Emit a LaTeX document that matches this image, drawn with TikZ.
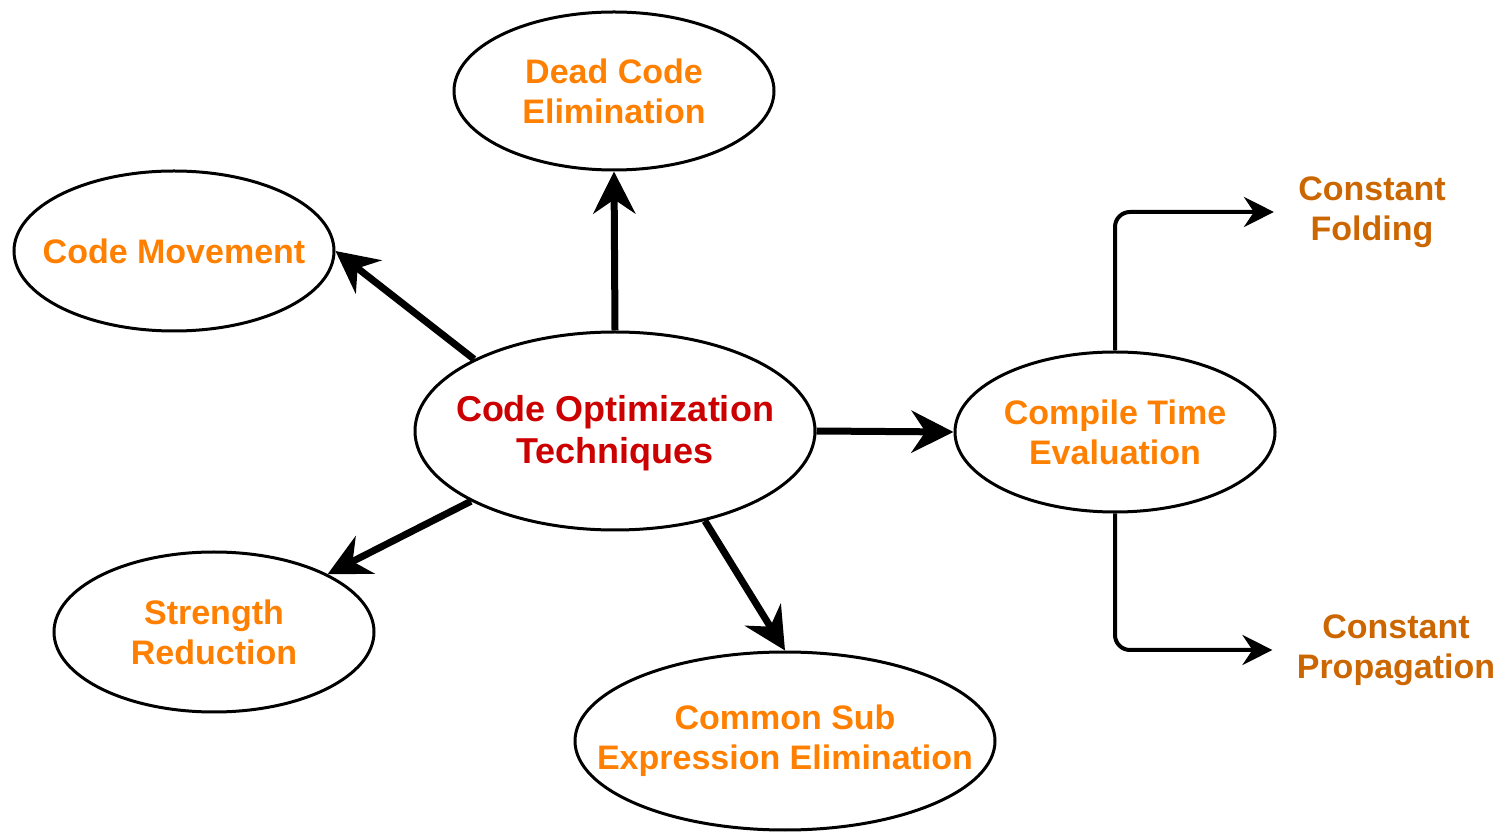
\documentclass[tikz,border=0pt]{standalone}
\usepackage{fontspec}
\setmainfont{Liberation Sans}
\usetikzlibrary{arrows.meta,shapes.geometric}
\definecolor{orangetxt}{HTML}{FF8000}
\definecolor{redtxt}{HTML}{CC0000}
\definecolor{brown}{HTML}{CC6600}
\tikzset{
  ell/.style={draw=black,line width=1.5pt,ellipse,inner sep=0pt,fill=white},
  otxt/.style={align=center,text=orangetxt,font=\fontsize{17pt}{20pt}\selectfont\bfseries},
  rtxt/.style={align=center,text=redtxt,font=\fontsize{18pt}{21pt}\selectfont\bfseries},
  btxt/.style={align=center,text=brown,font=\fontsize{17pt}{20pt}\selectfont\bfseries,inner xsep=12pt,inner ysep=0pt},
  thick arrow/.style={line width=3.5pt,-{Stealth[length=21pt,width=21pt,inset=7pt]}},
  thin arrow/.style={line width=2pt,rounded corners=7.5pt,-{Stealth[length=15pt,width=15pt,inset=5pt]}}
}
\begin{document}
\begin{tikzpicture}[x=0.5pt,y=-0.5pt]
\useasboundingbox (0,0) rectangle (1505,833);
\node[ell,minimum width=200pt,minimum height=99pt,label={[rtxt,yshift=-1pt]center:Code Optimization\\Techniques}] (c) at (615,431) {};
\node[ell,minimum width=160pt,minimum height=79pt,label={[otxt]center:Dead Code\\Elimination}] (dc) at (614,91) {};
\node[ell,minimum width=160pt,minimum height=80pt,label={[otxt]center:Code Movement}] (cm) at (174,251) {};
\node[ell,minimum width=160pt,minimum height=80pt,label={[otxt]center:Strength\\Reduction}] (sr) at (214,632) {};
\node[ell,minimum width=210pt,minimum height=89pt,label={[otxt]center:Common Sub\\Expression Elimination}] (cs) at (785,741) {};
\node[ell,minimum width=160pt,minimum height=80pt,label={[otxt]center:Compile Time\\Evaluation}] (ct) at (1115,432) {};
\node[btxt] (cf) at (1372,212) {Constant\\Folding};
\node[btxt] (cp) at (1396,650) {Constant\\Propagation};

\draw[thick arrow] (c.north) -- (dc.south);
\draw[thick arrow] (c.153.6) -- (cm.east);
\draw[thick arrow] (c.206.4) -- (sr.27);
\draw[thick arrow] (c.315.3) -- (cs.north);
\draw[thick arrow] (c.east) -- (ct.west);
\draw[thin arrow] (ct.north) |- (cf.west);
\draw[thin arrow] (ct.south) |- (cp.west);
\end{tikzpicture}
\end{document}
